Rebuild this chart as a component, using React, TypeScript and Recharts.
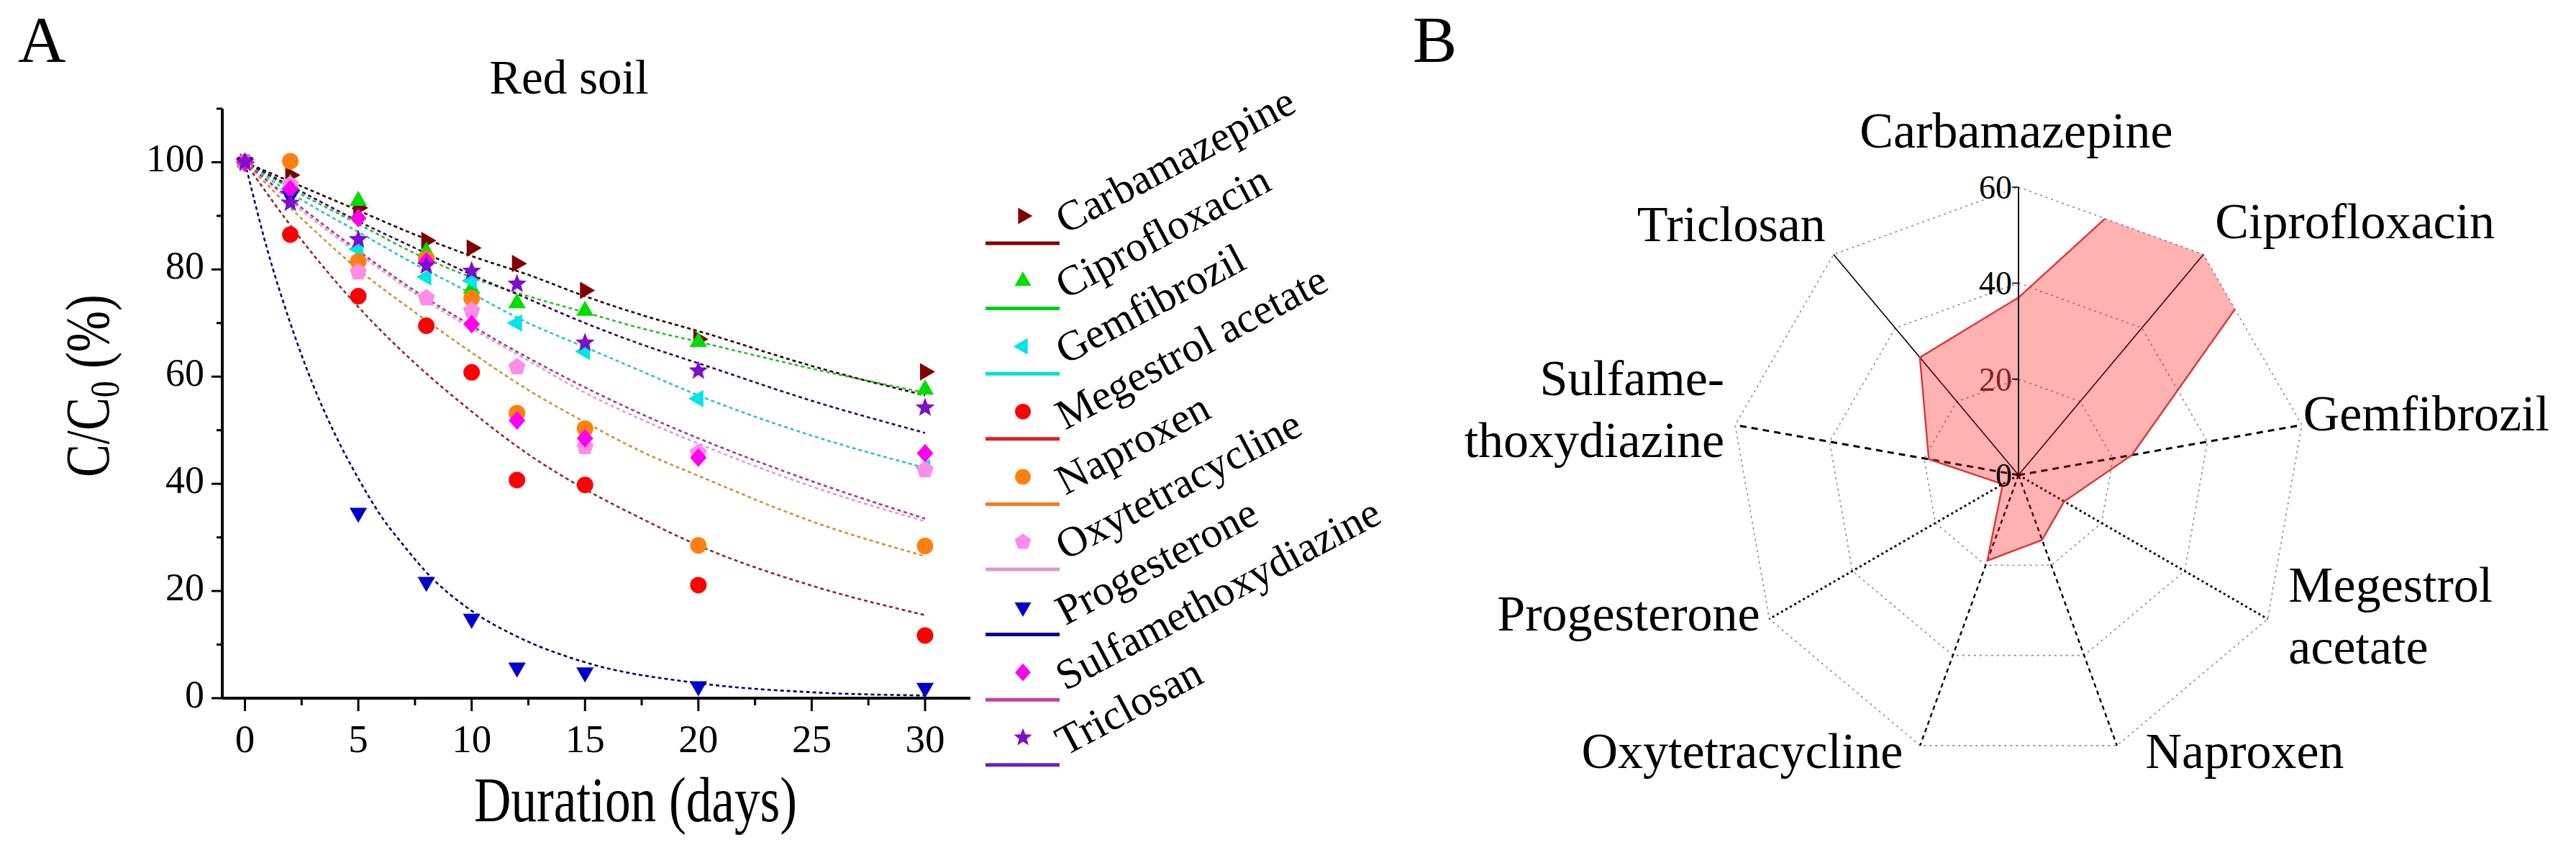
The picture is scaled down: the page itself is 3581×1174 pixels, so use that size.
import React from 'react';
import {
  ComposedChart, Line, Scatter, XAxis, YAxis, Legend,
  RadarChart, Radar, PolarGrid, PolarAngleAxis, PolarRadiusAxis,
} from 'recharts';

const FONT = "'Liberation Serif', 'Times New Roman', Times, serif";

// ---------------- Panel A data ----------------
const seriesNames = [
  'Carbamazepine', 'Ciprofloxacin', 'Gemfibrozil', 'Megestrol acetate', 'Naproxen',
  'Oxytetracycline', 'Progesterone', 'Sulfamethoxydiazine', 'Triclosan',
];

const sampleDays = [0, 2, 5, 8, 10, 12, 15, 20, 30];
const carbamazepineObs = [100, 97.6, 91.5, 85.4, 84.0, 81.1, 76.1, 67.0, 60.9];
const ciprofloxacinObs = [100, 96.0, 92.8, 83.3, 76.4, 73.7, 72.3, 66.5, 57.6];
const gemfibrozilObs = [100, 95.0, 83.8, 78.6, 77.9, 70.0, 64.7, 55.9, 43.0];
const megestrolObs = [100, 86.5, 75.0, 69.5, 60.8, 40.7, 39.8, 21.1, 11.7];
const naproxenObs = [100, 100.2, 81.5, 82.0, 74.6, 53.2, 50.3, 28.5, 28.4];
const oxytetracyclineObs = [100, 95.8, 79.5, 74.7, 72.3, 61.8, 46.9, 45.8, 42.6];
const progesteroneObs = [100, 93.7, 34.6, 21.7, 14.8, 5.7, 4.8, 2.2, 1.9];
const sulfamethoxydiazineObs = [100, 95.0, 89.6, 81.5, 69.8, 51.8, 48.5, 44.9, 45.7];
const triclosanObs = [100, 92.4, 85.6, 80.7, 79.7, 77.3, 66.3, 61.1, 54.2];

// fitted curves
const fitDays = [0, 2.5, 5, 7.5, 10, 12.5, 15, 17.5, 20, 25, 30];
const carbamazepineFit = [100, 95.5, 91, 86.5, 82.5, 79, 75, 71.5, 68.5, 62, 56.5];
const ciprofloxacinFit = [100, 94, 88.5, 83, 78.5, 75, 72, 69, 66.5, 61.5, 57];
const gemfibrozilFit = [100, 93, 87, 81, 75.5, 70, 65.5, 61, 56.5, 49, 43];
const megestrolFit = [100, 85.5, 73, 62.5, 53.5, 45.5, 39, 33.5, 28.5, 21, 15.5];
const naproxenFit = [100, 89.5, 80, 72, 64.5, 57.5, 51.5, 46, 41.5, 33, 26.5];
const oxytetracyclineFit = [100, 91, 83, 75.5, 69, 63, 57, 52, 47.5, 39.5, 33];
const sulfamethoxydiazineFit = [100, 91.5, 83.5, 76, 69.5, 63.5, 58, 53, 48.5, 40.5, 33.5];
const triclosanFit = [100, 94.5, 89, 84, 79, 74.5, 70, 66, 62.5, 55.5, 49.5];
const progesteroneFitDays = [0, 1, 2, 3, 4, 5, 6, 7, 8, 10, 12, 15, 20, 25, 30];
const progesteroneFit = [100, 83.5, 70, 58.5, 49, 41, 34, 28.5, 23.5, 16.3, 11.5, 6.7, 2.8, 1.1, 0.5];

const xTicks = [0, 2.5, 5, 7.5, 10, 12.5, 15, 17.5, 20, 22.5, 25, 27.5, 30];
const yTicks = [0, 10, 20, 30, 40, 50, 60, 70, 80, 90, 100, 110];

// ---------------- Panel B data ----------------
const radarCategories = seriesNames;
const halfLives = [37, 205, 24, 11, 14.4, 19, 3.8, 19, 32];
const radarTicks = [0, 20, 40, 60];
const radarTickLabels = [
  ['Carbamazepine'], ['Ciprofloxacin'], ['Gemfibrozil'], ['Megestrol', 'acetate'], ['Naproxen'],
  ['Oxytetracycline'], ['Progesterone'], ['Sulfame-', 'thoxydiazine'], ['Triclosan'],
];

// ---------------- styles ----------------
type Kind = 'right' | 'up' | 'left' | 'circle' | 'pentagon' | 'down' | 'diamond' | 'star';
const seriesStyles: { marker: Kind; fill: string; curve: string; legendLine: string }[] = [
  { marker: 'right', fill: '#800000', curve: '#2a0000', legendLine: '#800000' },
  { marker: 'up', fill: '#00dd00', curve: '#2fb82f', legendLine: '#00cc22' },
  { marker: 'left', fill: '#00e5e5', curve: '#30c0c0', legendLine: '#00dddd' },
  { marker: 'circle', fill: '#ff0000', curve: '#8b2a2a', legendLine: '#dd1f1f' },
  { marker: 'circle', fill: '#ff8010', curve: '#c8943a', legendLine: '#ee8020' },
  { marker: 'pentagon', fill: '#ff8ce6', curve: '#e596d8', legendLine: '#d99ad9' },
  { marker: 'down', fill: '#0000cc', curve: '#000066', legendLine: '#0000a0' },
  { marker: 'diamond', fill: '#ff00ee', curve: '#a23a90', legendLine: '#c040a8' },
  { marker: 'star', fill: '#7a10cc', curve: '#35084f', legendLine: '#7020c0' },
];

const obsSets = [carbamazepineObs, ciprofloxacinObs, gemfibrozilObs, megestrolObs, naproxenObs,
  oxytetracyclineObs, progesteroneObs, sulfamethoxydiazineObs, triclosanObs];
const fitSets = [carbamazepineFit, ciprofloxacinFit, gemfibrozilFit, megestrolFit, naproxenFit,
  oxytetracyclineFit, progesteroneFit, sulfamethoxydiazineFit, triclosanFit];
const fitDaySets = fitSets.map((_, i) => (i === 6 ? progesteroneFitDays : fitDays));

const toPts = (xs: number[], ys: number[]) => xs.map((d, i) => ({ day: d, v: ys[i] }));

function polyPts(cx: number, cy: number, R: number, n: number, rot: number) {
  const p: string[] = [];
  for (let k = 0; k < n; k++) {
    const a = ((rot + (k * 360) / n) * Math.PI) / 180;
    p.push(`${cx + R * Math.cos(a)},${cy + R * Math.sin(a)}`);
  }
  return p.join(' ');
}
function starPts(cx: number, cy: number, R: number, r: number) {
  const p: string[] = [];
  for (let k = 0; k < 10; k++) {
    const a = ((-90 + k * 36) * Math.PI) / 180;
    const rr = k % 2 === 0 ? R : r;
    p.push(`${cx + rr * Math.cos(a)},${cy + rr * Math.sin(a)}`);
  }
  return p.join(' ');
}

function MarkerShape({ cx, cy, kind, fill, scale = 1 }: any) {
  if (cx == null || cy == null || isNaN(cx) || isNaN(cy)) return null;
  const s = scale;
  switch (kind as Kind) {
    case 'right': return <polygon points={polyPts(cx, cy, 14 * s, 3, 0)} fill={fill} />;
    case 'up': return <polygon points={polyPts(cx, cy, 14 * s, 3, -90)} fill={fill} />;
    case 'left': return <polygon points={polyPts(cx, cy, 14 * s, 3, 180)} fill={fill} />;
    case 'down': return <polygon points={polyPts(cx, cy, 14 * s, 3, 90)} fill={fill} />;
    case 'pentagon': return <polygon points={polyPts(cx, cy, 12.5 * s, 5, -90)} fill={fill} />;
    case 'diamond': return <polygon points={`${cx},${cy - 13 * s} ${cx + 11.5 * s},${cy} ${cx},${cy + 13 * s} ${cx - 11.5 * s},${cy}`} fill={fill} />;
    case 'star': return <polygon points={starPts(cx, cy, 14 * s, 6 * s)} fill={fill} />;
    default: return <circle cx={cx} cy={cy} r={11.5 * s} fill={fill} />;
  }
}

function XTick(props: any) {
  const { x, y, payload } = props;
  const v = payload.value;
  const major = v % 5 === 0;
  return (
    <g>
      <line x1={x} x2={x} y1={y} y2={y + (major ? 18 : 10)} stroke="#000" strokeWidth={3} />
      {major && (
        <text x={x} y={y + 75} textAnchor="middle" fontSize={55} fontFamily={FONT} style={{ fontFamily: FONT }} fill="#000">{v}</text>
      )}
    </g>
  );
}

function YTick(props: any) {
  const { x, y, payload } = props;
  const v = payload.value;
  const major = v % 20 === 0;
  return (
    <g>
      <line x1={x} x2={x - (major ? 15 : 8)} y1={y} y2={y} stroke="#000" strokeWidth={3} />
      {major && (
        <text x={x - 25} y={y + 13} textAnchor="end" fontSize={54} fontFamily={FONT} style={{ fontFamily: FONT }} fill="#000">{v}</text>
      )}
    </g>
  );
}

const XTitle = () => (
  <text x={659} y={1141} fontSize={89} textLength={449} lengthAdjust="spacingAndGlyphs" fontFamily={FONT}
    style={{ fontFamily: FONT }} fill="#000">
    Duration (days)
  </text>
);

const YTitle = () => (
  <text transform="translate(151,536) rotate(-90)" textAnchor="middle" fontSize={87} textLength={254}
    lengthAdjust="spacingAndGlyphs" fontFamily={FONT} style={{ fontFamily: FONT }} fill="#000">
    C/C<tspan fontSize={58} dy={14}>0</tspan><tspan dy={-14}> (%)</tspan>
  </text>
);

function LegendContent(props: any) {
  const payload = props.payload || [];
  const names = payload.length ? payload.map((p: any) => p.value) : seriesNames;
  const rows = seriesNames.map((n, i) => ({ n, i })).filter((r) => names.includes(r.n));
  return (
    <svg width={640} height={1074} style={{ overflow: 'visible', display: 'block' }}>
      {rows.map((r, k) => {
        const ly = 238 + k * 90.6;
        const st = seriesStyles[r.i];
        const ty = ly - 12;
        return (
          <g key={r.n}>
            <MarkerShape kind={st.marker} cx={82} cy={ly - 38} fill={st.fill} scale={0.95} />
            <line x1={30} x2={133} y1={ly} y2={ly} stroke={st.legendLine} strokeWidth={5} />
            <text x={141} y={ty} transform={`rotate(-28 141 ${ty})`} fontSize={59} fontFamily={FONT}
              style={{ fontFamily: FONT }} fill="#000">
              {r.n}
            </text>
          </g>
        );
      })}
    </svg>
  );
}

// ---------------- radar helpers ----------------
const RADAR_MAX = 60;
const radarLabelLayout: Record<string, { anchor: string; dx: number; dy: number }> = {
  Carbamazepine: { anchor: 'middle', dx: -3, dy: -47 },
  Ciprofloxacin: { anchor: 'start', dx: 11, dy: -16 },
  Gemfibrozil: { anchor: 'start', dx: -6, dy: 9 },
  'Megestrol acetate': { anchor: 'start', dx: 22, dy: -28 },
  Naproxen: { anchor: 'start', dx: 37, dy: 24 },
  Oxytetracycline: { anchor: 'end', dx: -21, dy: 24 },
  Progesterone: { anchor: 'end', dx: -6, dy: 12 },
  Sulfamethoxydiazine: { anchor: 'end', dx: -7, dy: -40 },
  Triclosan: { anchor: 'end', dx: -6, dy: -12 },
};

function RadarTick(props: any) {
  const { x, y, payload } = props;
  const idx = radarCategories.indexOf(payload.value);
  const lines = radarTickLabels[idx] || [String(payload.value)];
  const lay = radarLabelLayout[payload.value] || { anchor: 'middle', dx: 0, dy: 0 };
  const tx = x + lay.dx;
  return (
    <text x={tx} y={y + lay.dy} textAnchor={lay.anchor as any} fontSize={70} fontFamily={FONT}
      style={{ fontFamily: FONT }} fill="#000">
      {lines.map((t: string, k: number) => (
        <tspan key={k} x={tx} dy={k === 0 ? 0 : 86}>{t}</tspan>
      ))}
    </text>
  );
}

function RadiusTick(props: any) {
  const { x, y, payload } = props;
  return (
    <g>
      {payload.value > 0 && <line x1={x - 9} x2={x} y1={y} y2={y} stroke="#000" strokeWidth={1.6} />}
      <text x={x - 9} y={y + 16} textAnchor="end" fontSize={46} fontFamily={FONT} style={{ fontFamily: FONT }}
        fill={payload.value > 0 && payload.value < 40 ? '#8a2020' : '#000'}>{payload.value}</text>
    </g>
  );
}

function ClippedRadar(props: any) {
  const { points, fill, fillOpacity, stroke, strokeWidth } = props;
  if (!points || !points.length) return null;
  const ref = points.find((p: any) => p.value > 0 && p.value <= RADAR_MAX) || points[0];
  const cx = ref.cx;
  const cy = ref.cy;
  const outerR = (ref.radius * RADAR_MAX) / ref.value;
  const clip = points
    .map((p: any) => {
      const a = (-p.angle * Math.PI) / 180;
      return `${cx + outerR * Math.cos(a)},${cy + outerR * Math.sin(a)}`;
    })
    .join(' ');
  const poly = points.map((p: any) => `${p.x},${p.y}`).join(' ');
  return (
    <g>
      <defs>
        <clipPath id="radarOuterClip">
          <polygon points={clip} />
        </clipPath>
      </defs>
      <polygon points={poly} fill={fill} fillOpacity={fillOpacity} stroke={stroke} strokeWidth={strokeWidth}
        strokeLinejoin="round" clipPath="url(#radarOuterClip)" />
    </g>
  );
}

const n = radarCategories.length;
const angleOf = (i: number) => 90 - (i * 360) / n;
const spokeGroups = [
  { idx: [0, 1, 8], dash: undefined as string | undefined, w: 1.6 },
  { idx: [2, 7], dash: '9 7', w: 3 },
  { idx: [3, 6], dash: '3 4', w: 3 },
  { idx: [4, 5], dash: '6 5', w: 2.4 },
];

export default function App() {
  const radarData = radarCategories.map((name, i) => ({ name, value: halfLives[i] }));
  return (
    <div style={{ position: 'absolute', left: 0, top: 0, width: 3581, height: 1174, background: '#fff', overflow: 'hidden', fontFamily: FONT }}>
      <div style={{ position: 'absolute', left: 0, top: 0 }}>
        <ComposedChart width={1950} height={1174} margin={{ top: 151, right: 601, bottom: 54, left: 159 }}>
          <XAxis type="number" dataKey="day" domain={[-1, 32]} ticks={xTicks} interval={0} height={150}
            tick={<XTick />} tickLine={false} tickSize={0} tickMargin={0}
            axisLine={{ stroke: '#000', strokeWidth: 4 }} label={<XTitle />} />
          <YAxis type="number" dataKey="v" domain={[0, 110]} ticks={yTicks} interval={0} width={150}
            tick={<YTick />} tickLine={false} tickSize={0} tickMargin={0}
            axisLine={{ stroke: '#000', strokeWidth: 4 }} label={<YTitle />} />
          {seriesNames.map((name, i) => (
            <Line key={'fit-' + name} data={toPts(fitDaySets[i], fitSets[i])} dataKey="v" type="monotone"
              stroke={seriesStyles[i].curve} strokeWidth={2.6} strokeDasharray="5 4" dot={false} activeDot={false}
              legendType="none" isAnimationActive={false} name={name + ' fit'} />
          ))}
          {seriesNames.map((name, i) => (
            <Scatter key={'obs-' + name} name={name} data={toPts(sampleDays, obsSets[i])} dataKey="v"
              fill={seriesStyles[i].fill} isAnimationActive={false}
              shape={(p: any) => <MarkerShape cx={p.cx} cy={p.cy} kind={seriesStyles[i].marker} fill={seriesStyles[i].fill} />} />
          ))}
          <Legend layout="vertical" align="center" verticalAlign="middle" content={<LegendContent />}
            wrapperStyle={{ position: 'absolute', left: 1340, top: 100, width: 640, height: 1074, margin: 0, padding: 0 }} />
        </ComposedChart>
      </div>

      <div style={{ position: 'absolute', left: 1900, top: 0 }}>
        <RadarChart width={1681} height={1174} cx={906} cy={660} outerRadius={400} data={radarData}
          margin={{ top: 0, right: 0, bottom: 0, left: 0 }}>
          <PolarGrid gridType="polygon" radialLines={false} stroke="#8c8c8c" strokeDasharray="3 5" strokeWidth={1.6} />
          {spokeGroups.map((g, k) => (
            <PolarGrid key={'spoke' + k} gridType="polygon" polarAngles={g.idx.map(angleOf)} polarRadius={[]}
              stroke="#000" strokeWidth={g.w} strokeDasharray={g.dash} />
          ))}
          <PolarAngleAxis dataKey="name" tick={<RadarTick />} tickLine={false} axisLine={false} />
          <PolarRadiusAxis angle={90} type="number" domain={[0, RADAR_MAX]} ticks={radarTicks as any} tickCount={4}
            allowDataOverflow axisLine={{ stroke: '#000', strokeWidth: 1.6 }} tick={<RadiusTick />} tickLine={false} />
          <Radar dataKey="value" fill="#ff0000" fillOpacity={0.3} stroke="#d83c3c" strokeWidth={2.5}
            isAnimationActive={false} shape={ClippedRadar as any} />
        </RadarChart>
      </div>

      <svg width={3581} height={1174} style={{ position: 'absolute', left: 0, top: 0, pointerEvents: 'none' }}>
        <text x={25} y={86} fontSize={92} fontFamily={FONT} fill="#000">A</text>
        <text x={1964} y={86} fontSize={92} fontFamily={FONT} fill="#000">B</text>
        <text x={791} y={130} textAnchor="middle" fontSize={67} fontFamily={FONT} fill="#000">Red soil</text>
      </svg>
    </div>
  );
}
